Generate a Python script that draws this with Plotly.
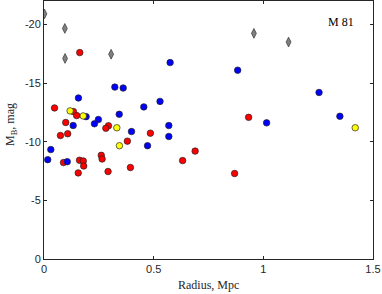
import plotly.graph_objects as go

# Grey diamonds (bright galaxies)
grey_r = [0.002, 0.095, 0.096, 0.306, 0.957, 1.115]
grey_m = [-20.9, -19.66, -17.1, -17.46, -19.24, -18.5]

# Blue circles
blue_r = [0.031, 0.575, 0.323, 0.361, 0.157, 0.529, 0.455, 0.343, 0.192, 0.248,
          0.230, 0.133, 0.569, 0.399, 0.569, 0.472, 0.017, 0.106, 0.883, 1.254,
          1.349, 1.015]
blue_m = [-9.33, -16.75, -14.66, -14.58, -13.73, -13.44, -12.97, -12.34, -12.14, -11.89,
          -11.53, -11.38, -11.38, -10.87, -10.45, -9.66, -8.47, -8.3, -16.1, -14.2,
          -12.17, -11.61]

# Red circles
red_r = [0.163, 0.048, 0.134, 0.149, 0.099, 0.294, 0.282, 0.075, 0.108, 0.380,
         0.485, 0.933, 0.089, 0.162, 0.179, 0.181, 0.156, 0.261, 0.265, 0.292,
         0.394, 0.632, 0.689, 0.869]
red_m = [-17.6, -12.88, -12.57, -12.23, -11.64, -11.36, -11.15, -10.53, -10.68, -10.05,
         -10.73, -12.08, -8.22, -8.42, -8.36, -7.93, -7.34, -8.84, -8.53, -7.46,
         -7.80, -8.39, -9.2, -7.29]

# Yellow circles
yel_r = [0.119, 0.179, 0.332, 0.344, 1.419]
yel_m = [-12.63, -12.2, -11.19, -9.66, -11.19]

x_ticks = [0, 0.5, 1, 1.5]
x_labels = ["0", "0.5", "1", "1.5"]
y_ticks = [0, -5, -10, -15, -20]
y_labels = ["0", "-5", "-10", "-15", "-20"]

fig = go.Figure()

def circ(x, y, color):
    fig.add_trace(go.Scatter(x=x, y=y, mode="markers",
                             marker=dict(symbol="circle", size=6.5, color=color,
                                         line=dict(color="#222222", width=0.7)),
                             showlegend=False, hoverinfo="skip"))

fig.add_trace(go.Scatter(x=grey_r, y=grey_m, mode="markers",
                         marker=dict(symbol="diamond-tall", size=7, color="#808080",
                                     line=dict(color="#333333", width=0.7)),
                         showlegend=False, hoverinfo="skip"))
circ(red_r, red_m, "#ff0000")
circ(blue_r, blue_m, "#0000ff")
circ(yel_r, yel_m, "#ffff00")

fig.add_annotation(x=1.355, y=-20.2, text="M 81", showarrow=False,
                   font=dict(family="Liberation Serif", size=12, color="#000000"))

# Axis titles as paper annotations
fig.add_annotation(xref="paper", yref="paper", x=0.5, y=-0.10, yanchor="middle",
                   text="Radius, Mpc", showarrow=False,
                   font=dict(family="Liberation Serif", size=12, color="#262626"))
fig.add_annotation(xref="paper", yref="paper", x=-0.10, y=0.52, xanchor="center",
                   text="M<sub>B</sub>, mag", showarrow=False, textangle=-90,
                   font=dict(family="Liberation Serif", size=12, color="#262626"))

axis_common = dict(showgrid=False, zeroline=False, showline=True, mirror="allticks",
                   linecolor="#262626", linewidth=1, ticks="inside", ticklen=3,
                   tickcolor="#262626", automargin=False,
                   tickfont=dict(family="Liberation Sans", size=11, color="#262626"))

fig.update_xaxes(range=[0, 1.5], tickvals=x_ticks, ticktext=x_labels, **axis_common)
fig.update_yaxes(range=[0, -22], tickvals=y_ticks, ticktext=y_labels, **axis_common)

fig.update_layout(width=382, height=294, margin=dict(l=44, r=9, t=1, b=35),
                  plot_bgcolor="white", paper_bgcolor="white")

fig.write_html("out.html", config={"displayModeBar": False},
               post_script="document.body.style.margin='0px';document.body.style.overflow='hidden';")
